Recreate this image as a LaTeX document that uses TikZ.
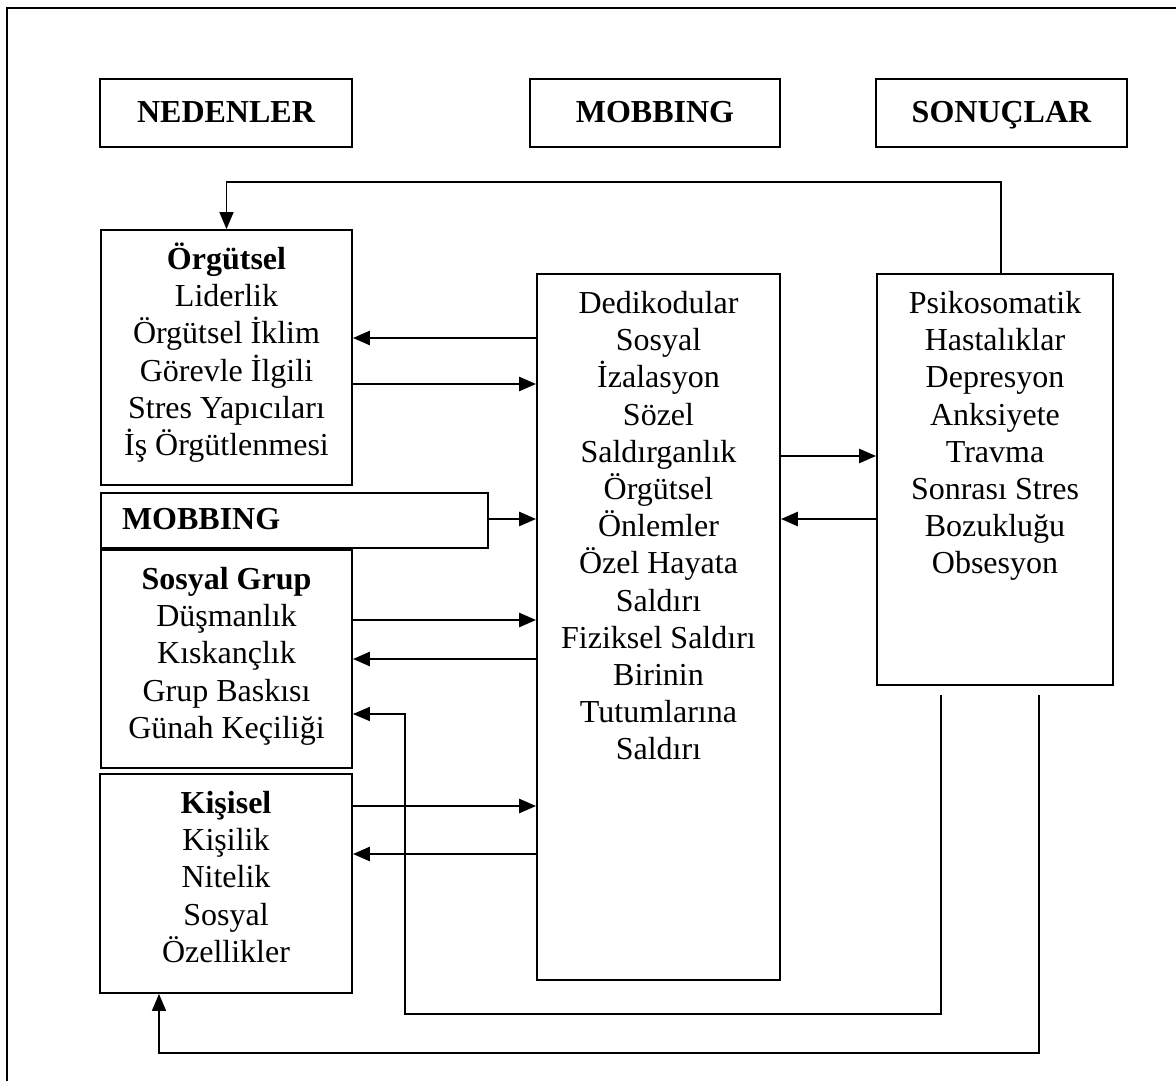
\documentclass[tikz,border=0pt]{standalone}
\usepackage{fontspec}
\setmainfont{Liberation Serif}
\usetikzlibrary{arrows.meta,positioning}

\newcommand{\topstrut}{\rule{0pt}{20pt}}

\tikzset{
  box/.style={draw,line width=0.9pt,inner sep=0pt},
  head/.style={box,minimum height=34pt,text height=13.5pt,text depth=3.5pt,
               font=\fontsize{16}{18.6}\selectfont\bfseries},
  txt/.style={anchor=north,align=center,inner sep=0pt,font=\fontsize{16}{18.6}\selectfont},
  arr/.style={-{Triangle[length=8.5pt,width=7pt]},line width=1.3pt},
  fbarr/.style={-{Triangle[length=8.5pt,width=7pt]},line width=0.8pt}
}

\begin{document}
\begin{tikzpicture}[x=0.5pt,y=-0.5pt]
  \useasboundingbox (0,0) rectangle (1176,1080);
  \draw[line width=0.8pt] (7,1100) -- (7,8) -- (1200,8);

  % headers
  \node[head,minimum width=126pt] (ned) at (226,113) {NEDENLER};
  \node[head,minimum width=125pt] (mobh) at (655,113) {MOBBING};
  \node[head,minimum width=125.5pt] (son) at (1001.5,113) {SONUÇLAR};

  % left column
  \node[box,minimum width=125.5pt,minimum height=127.5pt] (org) at (226.5,357.5) {};
  \node[txt] at (org.north) {\topstrut\textbf{Örgütsel}\\Liderlik\\Örgütsel İklim\\Görevle İlgili\\Stres Yapıcıları\\İş Örgütlenmesi};
  \node[box,minimum height=27.5pt,text width=172.5pt,inner xsep=10.5pt,align=left,
        text height=12pt,text depth=3.5pt,
        font=\fontsize{16}{18.6}\selectfont\bfseries] (mobs) at (294.5,520.5) {MOBBING};
  \node[box,minimum width=125.5pt,minimum height=109pt] (sos) at (226.5,659) {};
  \node[txt] at (sos.north) {\topstrut\textbf{Sosyal Grup}\\Düşmanlık\\Kıskançlık\\Grup Baskısı\\Günah Keçiliği};
  \node[box,minimum width=126pt,minimum height=109.5pt] (kis) at (226,883.5) {};
  \node[txt] at (kis.north) {\topstrut\textbf{Kişisel}\\Kişilik\\Nitelik\\Sosyal\\Özellikler};

  % middle and right
  \node[box,minimum width=121.5pt,minimum height=353pt] (mob) at (658.5,627) {};
  \node[txt] at (mob.north) {\topstrut Dedikodular\\Sosyal\\İzalasyon\\Sözel\\Saldırganlık\\Örgütsel\\Önlemler\\Özel Hayata\\Saldırı\\Fiziksel Saldırı\\Birinin\\Tutumlarına\\Saldırı};
  \node[box,minimum width=118pt,minimum height=205.5pt] (res) at (995,479.5) {};
  \node[txt] at (res.north) {\topstrut Psikosomatik\\Hastalıklar\\Depresyon\\Anksiyete\\Travma\\Sonrası Stres\\Bozukluğu\\Obsesyon};

  \coordinate (fbin) at (941,695);
  \coordinate (fbout) at (1039,695);

  % arrows
  \draw[arr] (mob.west |- 0,338) -- (org.east |- 0,338);
  \draw[arr] (org.east |- 0,384) -- (mob.west |- 0,384);
  \draw[arr] (mobs.east |- 0,519) -- (mob.west |- 0,519);
  \draw[arr] (sos.east |- 0,620) -- (mob.west |- 0,620);
  \draw[arr] (mob.west |- 0,659) -- (sos.east |- 0,659);
  \draw[arr] (kis.east |- 0,806) -- (mob.west |- 0,806);
  \draw[arr] (mob.west |- 0,854) -- (kis.east |- 0,854);
  \draw[arr] (mob.east |- 0,456) -- (res.west |- 0,456);
  \draw[arr] (res.west |- 0,519) -- (mob.east |- 0,519);

  % feedback
  \draw[fbarr] ([xshift=3pt]res.north) |- (org.north |- 0,182) -- (org.north);
  \draw[fbarr] (fbin) |- (405,1014) |- (sos.east |- 0,714);
  \draw[fbarr] (fbout) |- (159,1053) -- (kis.south -| 159,0);
\end{tikzpicture}
\end{document}
